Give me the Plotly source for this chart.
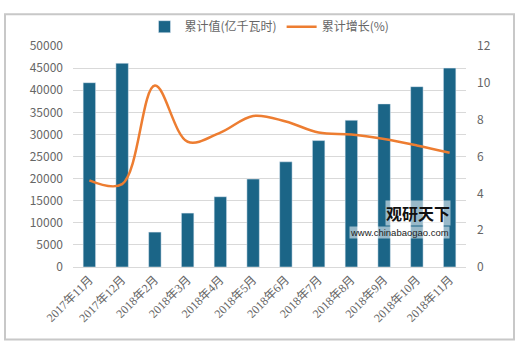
import plotly.graph_objects as go

categories = ["2017年11月", "2017年12月", "2018年2月", "2018年3月", "2018年4月", "2018年5月",
              "2018年6月", "2018年7月", "2018年8月", "2018年9月", "2018年10月", "2018年11月"]
cum_values = [41700, 46100, 7900, 12200, 15900, 19900, 23800, 28600, 33200, 36900, 40800, 45000]
cum_growth = [4.7, 4.5, 9.85, 6.8, 7.3, 8.2, 7.9, 7.3, 7.2, 6.95, 6.6, 6.2]

FONT = "Noto Sans CJK SC, Noto Sans, sans-serif"
SERIF = "Liberation Serif, Noto Sans CJK SC, serif"
GREY = "#666666"

fig = go.Figure()
fig.add_trace(go.Bar(x=categories, y=cum_values, name="累计值(亿千瓦时)",
                     marker=dict(color="#1b6587"), yaxis="y"))
fig.add_trace(go.Scatter(x=categories, y=cum_growth, name="累计增长(%)", mode="lines",
                         line=dict(color="#ed7d31", width=2.5, shape="spline", smoothing=1.0),
                         yaxis="y2"))

L, R, T, B = 73, 54, 38, 81
pw, ph = 520 - L - R, 348 - T - B

def px_x(p):
    return (p - L) / pw

def px_y(p):
    return (348 - B - p) / ph

fig.update_layout(
    width=520, height=348,
    margin=dict(l=L, r=R, t=T, b=B),
    paper_bgcolor="white", plot_bgcolor="white",
    font=dict(family=FONT, size=12, color=GREY),
    bargap=0.62,
    showlegend=True,
    legend=dict(orientation="h", x=0.5, xanchor="center", y=px_y(18), yanchor="middle",
                font=dict(size=12, color=GREY), bgcolor="rgba(0,0,0,0)"),
    xaxis=dict(type="category", tickangle=-45, showgrid=False, showline=True,
               linecolor="#d9d9d9", ticks="", tickfont=dict(size=12, color=GREY, family=SERIF)),
    yaxis=dict(range=[0, 50000], dtick=5000, tickformat="d", showgrid=True, gridcolor="#d9d9d9",
               zeroline=False, ticks="", ticklabelstandoff=9, tickfont=dict(size=12, color=GREY)),
    yaxis2=dict(range=[0, 12], dtick=2, overlaying="y", side="right", showgrid=False,
                zeroline=False, ticks="", ticklabelstandoff=10, tickfont=dict(size=12, color=GREY)),
    shapes=[dict(type="rect", xref="paper", yref="paper",
                 x0=px_x(5), x1=px_x(514), y0=px_y(342), y1=px_y(5),
                 line=dict(color="#c8c8c8", width=2), fillcolor="rgba(0,0,0,0)", layer="below")],
    annotations=[
        dict(text="<b>观研天下</b>", xref="paper", yref="paper", x=px_x(418), y=px_y(211),
             showarrow=False, font=dict(size=16, color="#111111", family=FONT), xanchor="center",
             yanchor="middle", borderpad=0, bgcolor="rgba(255,255,255,0.55)"),
        dict(text="www.chinabaogao.com", xref="paper", yref="paper", x=px_x(399), y=px_y(231),
             showarrow=False, font=dict(size=9.5, color="#222222", family="Liberation Sans"),
             xanchor="center", yanchor="middle", borderpad=0, bgcolor="rgba(255,255,255,0.55)"),
    ],
)

fig.write_html("out.html")
